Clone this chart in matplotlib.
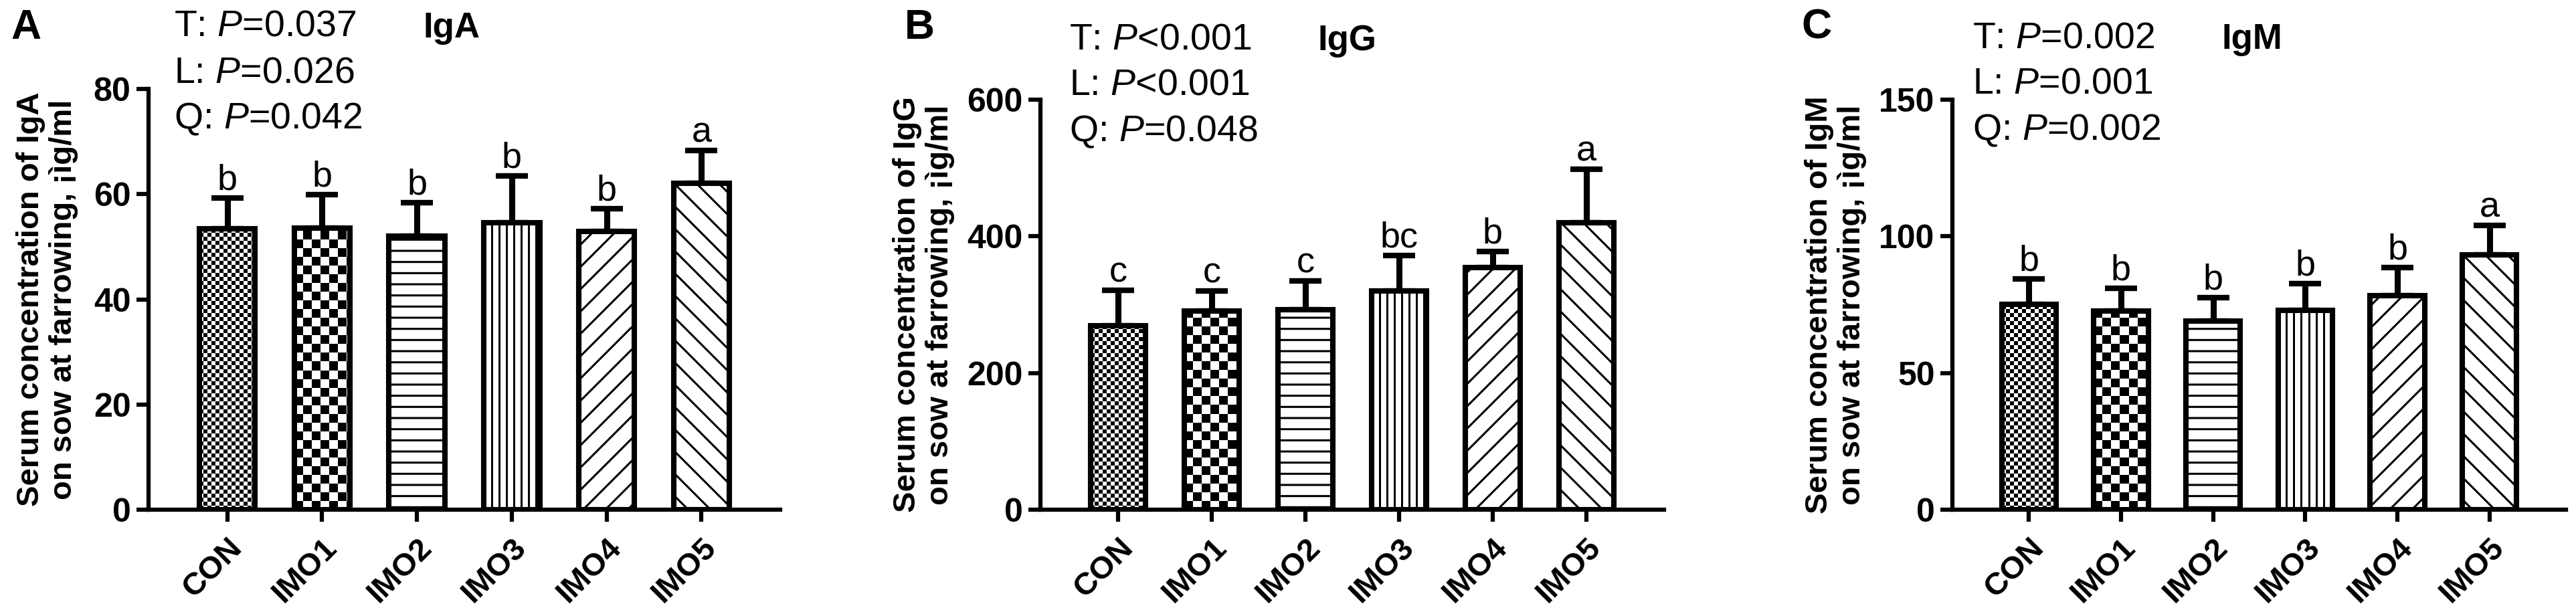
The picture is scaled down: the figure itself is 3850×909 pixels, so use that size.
import numpy as np
import matplotlib
matplotlib.use("Agg")
import matplotlib.pyplot as plt



GROUPS=["CON","IMO1","IMO2","IMO3","IMO4","IMO5"]

IGA_MEAN=[53.4,53.6,52.0,54.5,52.9,62.1]
IGA_SD=[5.9,6.3,6.4,9.0,4.3,6.2]
IGA_LETTERS=["b","b","b","b","b","a"]
IGA_P=["T: $\\it{P}$=0.037","L: $\\it{P}$=0.026","Q: $\\it{P}$=0.042"]
IGA_TICKS=[0,20,40,60,80]

IGG_MEAN=[269,291,293,320,354,420]
IGG_SD=[52,29,42,52,24,78]
IGG_LETTERS=["c","c","c","bc","b","a"]
IGG_P=["T: $\\it{P}$<0.001","L: $\\it{P}$<0.001","Q: $\\it{P}$=0.048"]
IGG_TICKS=[0,200,400,600]

IGM_MEAN=[75.1,72.7,69.1,72.9,78.3,93.2]
IGM_SD=[9.2,8.2,8.5,9.7,10.2,10.7]
IGM_LETTERS=["b","b","b","b","b","a"]
IGM_P=["T: $\\it{P}$=0.002","L: $\\it{P}$=0.001","Q: $\\it{P}$=0.002"]
IGM_TICKS=[0,50,100,150]

NAMES=["IgA","IgG","IgM"]
PANELS=["A","B","C"]

# fill style per group: image patterns or matplotlib hatches
FILLS=["fine","checker","-","vlines","/","\\"]

W=3850
H=909
# layout in pixels: axes (left,top,right,bottom), panel letter x, p-text x, first baseline
LAYOUT=[
	dict(rect=(222,133,1166,762),letter=16,ptx=260,pty=54,lab=-0.111),
	dict(rect=(1555,149,2487,762),letter=1352,ptx=1598,pty=73,lab=-0.137),
	dict(rect=(2918,149,3835,762),letter=2692,ptx=2948,pty=71,lab=-0.140),
]
PITCH=69
FONT="Liberation Sans"



plt.rcParams["font.family"]=[FONT,"DejaVu Sans"]
plt.rcParams["mathtext.fontset"]="custom"
plt.rcParams["mathtext.rm"]=FONT
plt.rcParams["mathtext.it"]=FONT+":italic"
plt.rcParams["hatch.linewidth"]=2.2



def _pattern(kind,w,h):
	yy,xx=np.mgrid[0:h,0:w]
	if kind=="fine":
		return ((xx//6+yy//6)%2).astype(float)
	if kind=="checker":
		return ((xx//13+yy//13)%2).astype(float)
	return (xx%11>=3).astype(float)



def _panel(fig,lay,means,sds,letters,ptext,ticks,name,panel):
	l,t,r,b=lay["rect"]
	ax=fig.add_axes([l/W,1-b/H,(r-l)/W,(b-t)/H])
	x=np.arange(len(GROUPS))
	ax.set_xlim(-0.83,len(GROUPS)-1+0.83)
	ax.set_ylim(0,ticks[-1])
	ax.errorbar(x,means,yerr=[np.zeros(len(means)),sds],fmt="none",ecolor="black",elinewidth=6.5,capsize=17,capthick=6,zorder=1)
	hatches=[f if f in ("-","/","\\") else None for f in FILLS]
	bars=ax.bar(x,means,width=0.59,facecolor="white",edgecolor="black",linewidth=5.8,hatch=hatches,zorder=2)
	for bar,kind in zip(bars,FILLS):
		if kind in ("-","/","\\"):
			continue
		x0,y0=bar.get_x(),bar.get_y()
		x1,y1=x0+bar.get_width(),y0+bar.get_height()
		(px0,py0),(px1,py1)=ax.transData.transform([(x0,y0),(x1,y1)])
		arr=_pattern(kind,max(int(round(px1-px0)),1),max(int(round(py1-py0)),1))
		im=ax.imshow(arr,extent=(x0,x1,y0,y1),origin="lower",cmap="gray",vmin=0,vmax=1,interpolation="nearest",aspect="auto",zorder=2.5)
		im.set_clip_path(bar)
	ax.bar(x,means,width=0.59,facecolor="none",edgecolor="black",linewidth=5.8,zorder=3)
	ax.set_xlim(-0.83,len(GROUPS)-1+0.83)
	ax.set_ylim(0,ticks[-1])
	for i in range(len(GROUPS)):
		ax.annotate(letters[i],(x[i],means[i]+sds[i]),xytext=(0,9),textcoords="offset points",ha="center",va="baseline",fontsize=39)
	for s in ("top","right"):
		ax.spines[s].set_visible(False)
	for s in ("left","bottom"):
		ax.spines[s].set_linewidth(4.5)
	ax.set_yticks(ticks)
	ax.set_yticklabels([str(v) for v in ticks],fontsize=36,fontweight="bold")
	ax.set_xticks(x)
	ax.set_xticklabels(GROUPS,fontsize=34,fontweight="bold",rotation=45,ha="right",rotation_mode="anchor")
	ax.tick_params(axis="both",length=13,width=4.5)
	ax.tick_params(axis="y",pad=6)
	ax.tick_params(axis="x",pad=12)
	ax.set_ylabel("Serum concentration of "+name+"\non sow at farrowing, \u00a1\u00ecg/ml",fontsize=34,fontweight="bold",linespacing=1.15)
	ax.yaxis.set_label_coords(lay["lab"],0.5)
	fig.text(lay["letter"]/W,1-58/H,panel,fontsize=45,fontweight="bold",va="baseline")
	for k,s in enumerate(ptext):
		fig.text(lay["ptx"]/W,1-(lay["pty"]+k*PITCH)/H,s,fontsize=40,va="baseline")
	fig.text((lay["ptx"]+372)/W,1-(lay["pty"]+2)/H,name,fontsize=38,fontweight="bold",va="baseline")
	return ax



fig=plt.figure(figsize=(W/100,H/100),dpi=100)
_panel(fig,LAYOUT[0],IGA_MEAN,IGA_SD,IGA_LETTERS,IGA_P,IGA_TICKS,NAMES[0],PANELS[0])
_panel(fig,LAYOUT[1],IGG_MEAN,IGG_SD,IGG_LETTERS,IGG_P,IGG_TICKS,NAMES[1],PANELS[1])
_panel(fig,LAYOUT[2],IGM_MEAN,IGM_SD,IGM_LETTERS,IGM_P,IGM_TICKS,NAMES[2],PANELS[2])
fig.savefig("out.png",dpi=100)
